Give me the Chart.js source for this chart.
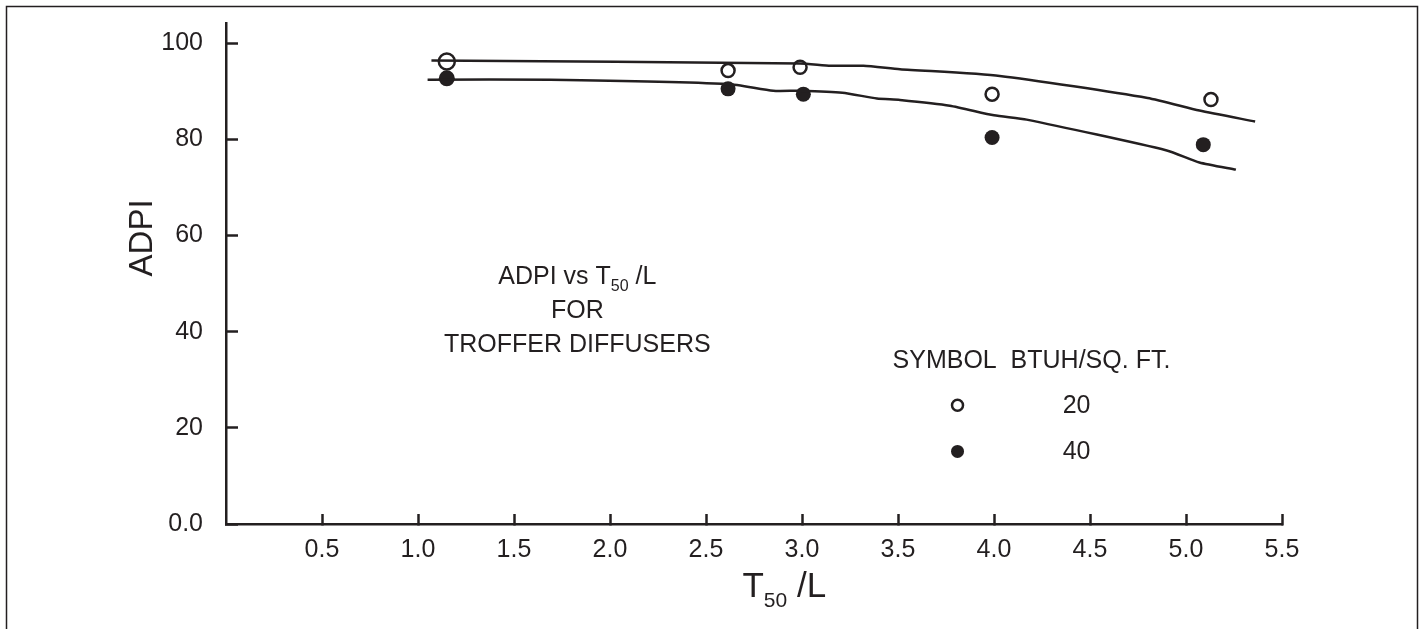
<!DOCTYPE html>
<html>
<head>
<meta charset="utf-8">
<script src="https://cdn.jsdelivr.net/npm/chart.js@4/dist/chart.umd.min.js"></script>
<style>
  html, body { margin: 0; padding: 0; background: #ffffff; }
  #wrap { position: relative; width: 1426px; height: 629px; }
  canvas { display: block; }
</style>
</head>
<body>
<div id="wrap"><canvas id="c" width="1426" height="629"></canvas></div>
<script>
// ---------------- data ----------------
const xTickValues = [0.5, 1.0, 1.5, 2.0, 2.5, 3.0, 3.5, 4.0, 4.5, 5.0, 5.5];
const xTickLabels = ['0.5', '1.0', '1.5', '2.0', '2.5', '3.0', '3.5', '4.0', '4.5', '5.0', '5.5'];
const yTickValues = [0, 20, 40, 60, 80, 100];
const yTickLabels = ['0.0', '20', '40', '60', '80', '100'];

// fitted curve, 20 BTUH/sq.ft.
const curve20X = [1.07, 2.99, 3.15, 3.32, 3.51, 4.03, 4.80, 5.07, 5.36];
const curve20Y = [96.4, 95.8, 95.3, 95.3, 94.6, 93.2, 88.6, 86.0, 83.7];
// fitted curve, 40 BTUH/sq.ft.
const curve40X = [1.05, 1.69, 2.615, 2.85, 2.99, 3.21, 3.39, 3.51, 3.77, 4.00, 4.17, 4.90, 5.07, 5.26];
const curve40Y = [92.4, 92.4, 91.5, 90.1, 90.1, 89.7, 88.5, 88.2, 87.0, 85.0, 84.1, 77.7, 75.2, 73.7];

// measured points
const pts20X = [1.15, 2.615, 2.99, 3.99, 5.13];
const pts20Y = [96.2, 94.3, 95.0, 89.4, 88.3];
const pts40X = [1.15, 2.615, 3.007, 3.99, 5.09];
const pts40Y = [92.7, 90.5, 89.4, 80.4, 78.9];

const legendLabels = ['20', '40'];

// ---------------- styling / layout ----------------
const INK = '#231f20';
const FONT = '"Liberation Sans", Arial, Helvetica, sans-serif';

const zip = (xs, ys) => xs.map((x, i) => ({ x: x, y: ys[i] }));

function drawRich(ctx, parts, x, y, align) {
  let total = 0;
  parts.forEach(p => { ctx.font = p.size + 'px ' + FONT; p.w = ctx.measureText(p.t).width; total += p.w; });
  let cx = align === 'center' ? x - total / 2 : (align === 'right' ? x - total : x);
  ctx.textAlign = 'left';
  ctx.textBaseline = 'alphabetic';
  parts.forEach(p => {
    ctx.font = p.size + 'px ' + FONT;
    ctx.fillText(p.t, cx, y + (p.dy || 0));
    cx += p.w;
  });
}

function noPad(s) {
  s.paddingTop = 0; s.paddingBottom = 0; s.paddingLeft = 0; s.paddingRight = 0;
}

const decorPlugin = {
  id: 'decor',
  beforeDraw(chart) {
    const ctx = chart.ctx;
    ctx.save();
    ctx.fillStyle = '#ffffff';
    ctx.fillRect(0, 0, chart.width, chart.height);
    ctx.strokeStyle = INK;
    ctx.lineWidth = 1.5;
    ctx.strokeRect(6.5, 6.5, 1411, 700);
    ctx.restore();
  },
  afterDraw(chart) {
    const ctx = chart.ctx;
    const xs = chart.scales.x, ys = chart.scales.y;
    const area = chart.chartArea;
    ctx.save();
    ctx.fillStyle = INK;

    // y axis title (rotated)
    ctx.save();
    ctx.translate(area.left - 83, ys.getPixelForValue(59.5));
    ctx.rotate(-Math.PI / 2);
    ctx.font = '33px ' + FONT;
    ctx.textAlign = 'center';
    ctx.textBaseline = 'middle';
    ctx.fillText('ADPI', 0, 0);
    ctx.restore();

    // x axis title  T50 /L
    drawRich(ctx, [
      { t: 'T', size: 35 },
      { t: '50', size: 21, dy: 10 },
      { t: ' /L', size: 35 }
    ], xs.getPixelForValue(2.69), area.bottom + 73, 'left');

    // annotation block
    const ax = xs.getPixelForValue(1.83);
    drawRich(ctx, [
      { t: 'ADPI vs T', size: 25 },
      { t: '50', size: 16, dy: 7 },
      { t: ' /L', size: 25 }
    ], ax, ys.getPixelForValue(49.85), 'center');
    drawRich(ctx, [{ t: 'FOR', size: 25 }], ax, ys.getPixelForValue(42.8), 'center');
    drawRich(ctx, [{ t: 'TROFFER DIFFUSERS', size: 25 }], ax, ys.getPixelForValue(35.7), 'center');

    // legend block
    drawRich(ctx, [{ t: 'SYMBOL  BTUH/SQ. FT.', size: 25 }], xs.getPixelForValue(4.195), ys.getPixelForValue(32.4), 'center');
    const symX = xs.getPixelForValue(3.81);
    const numX = xs.getPixelForValue(4.43);
    const rows = [24.7, 15.1];
    rows.forEach((v, i) => {
      const py = ys.getPixelForValue(v);
      ctx.beginPath();
      ctx.arc(symX, py, i === 0 ? 5.5 : 6.5, 0, Math.PI * 2);
      if (i === 0) {
        ctx.fillStyle = '#ffffff'; ctx.fill();
        ctx.lineWidth = 2.5; ctx.strokeStyle = INK; ctx.stroke();
      } else {
        ctx.fillStyle = INK; ctx.fill();
      }
      ctx.fillStyle = INK;
      ctx.font = '25px ' + FONT;
      ctx.textAlign = 'center';
      ctx.textBaseline = 'middle';
      ctx.fillText(legendLabels[i], numX, py + 1);
    });
    ctx.restore();
  }
};

new Chart(document.getElementById('c'), {
  type: 'scatter',
  data: {
    datasets: [
      {
        label: 'curve 20', data: zip(curve20X, curve20Y), showLine: true,
        borderColor: INK, borderWidth: 2.5, pointRadius: 0, fill: false, tension: 0.2
      },
      {
        label: 'curve 40', data: zip(curve40X, curve40Y), showLine: true,
        borderColor: INK, borderWidth: 2.5, pointRadius: 0, fill: false, tension: 0.2
      },
      {
        label: '20', data: zip(pts20X, pts20Y), showLine: false,
        pointRadius: [8, 6.5, 6.5, 6.5, 6.5], pointBackgroundColor: '#ffffff',
        pointBorderColor: INK, pointBorderWidth: 2.5
      },
      {
        label: '40', data: zip(pts40X, pts40Y), showLine: false,
        pointRadius: [8, 7.5, 7.5, 7.5, 7.5], pointBackgroundColor: INK,
        pointBorderColor: INK, pointBorderWidth: 0
      }
    ]
  },
  options: {
    responsive: false,
    animation: false,
    events: [],
    layout: { padding: { left: 0, top: 23, right: 144, bottom: 0 } },
    plugins: { legend: { display: false }, tooltip: { enabled: false } },
    scales: {
      x: {
        type: 'linear', position: 'bottom', min: 0, max: 5.5,
        afterFit(s) { s.height = 105; noPad(s); },
        afterBuildTicks(s) { s.ticks = xTickValues.map(v => ({ value: v })); },
        ticks: {
          autoSkip: false, maxRotation: 0, padding: 21, color: INK,
          font: { family: FONT, size: 25 },
          callback: (v, i) => xTickLabels[i]
        },
        grid: { drawOnChartArea: false, drawTicks: true, tickLength: -10, tickWidth: 2.5, tickColor: INK },
        border: { display: true, color: INK, width: 2.5 }
      },
      y: {
        type: 'linear', min: 0, max: 104.2,
        afterFit(s) { s.width = 226; noPad(s); },
        afterBuildTicks(s) { s.ticks = yTickValues.map(v => ({ value: v })); },
        ticks: {
          autoSkip: false, padding: 35, color: INK,
          font: { family: FONT, size: 25 },
          callback: (v, i) => yTickLabels[i]
        },
        grid: { drawOnChartArea: false, drawTicks: true, tickLength: -12, tickWidth: 2.5, tickColor: INK },
        border: { display: true, color: INK, width: 2.5 }
      }
    }
  },
  plugins: [decorPlugin]
});
</script>
</body>
</html>
